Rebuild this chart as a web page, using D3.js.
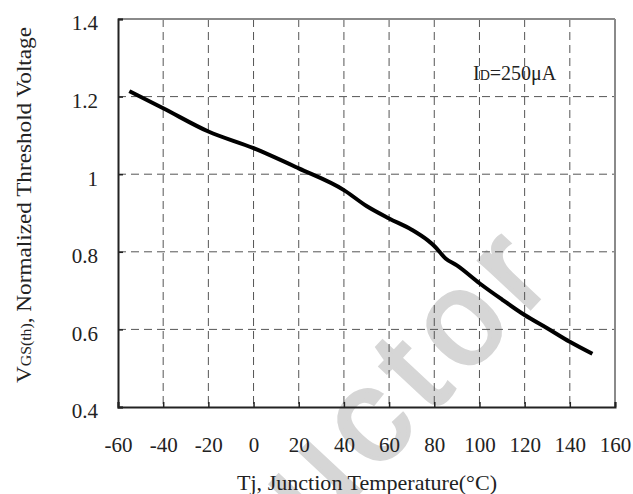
<!DOCTYPE html>
<html>
<head>
<meta charset="utf-8">
<script src="https://cdn.jsdelivr.net/npm/d3@7"></script>
<style>
  body { margin: 0; background: #fff; }
  text { font-family: "Liberation Serif", "Times New Roman", serif; fill: #222; }
</style>
</head>
<body>
<div id="chart"></div>
<script>
// --- data ---------------------------------------
var temps = [-55, -40, -20, 0, 20, 40, 50, 60, 70, 77, 80, 85, 90, 100, 110, 120, 130, 140, 150]
var vth = [1.214, 1.170, 1.110, 1.067, 1.015, 0.959, 0.918, 0.886, 0.857, 0.830, 0.815, 0.783, 0.765, 0.719, 0.677, 0.637, 0.603, 0.568, 0.537]
var xTicks = [-60, -40, -20, 0, 20, 40, 60, 80, 100, 120, 140, 160]
var yTicks = [0.4, 0.6, 0.8, 1.0, 1.2, 1.4]

var width = 633,
    height = 494,
    margin = { top: 19, right: 18, bottom: 87, left: 118 }

var svg = d3.select('#chart').append('svg')
  .attr('width', width)
  .attr('height', height)

var x = d3.scaleLinear().domain([-60, 160]).range([margin.left, width - margin.right])
var y = d3.scaleLinear().domain([0.4, 1.4]).range([height - margin.bottom, margin.top])

// watermark
svg.append('text')
  .attr('transform', 'translate(316,538) rotate(-47)')
  .style('font-family', '"Liberation Sans", Arial, sans-serif')
  .style('font-size', '132px')
  .style('letter-spacing', '14px')
  .style('fill', '#d6d6d6')
  .style('stroke', '#d6d6d6')
  .style('stroke-width', 4)
  .text('uctor')

// gridlines
var grid = svg.append('g').attr('class', 'grid')
grid.selectAll('line.v')
  .data(xTicks.slice(1, -1))
  .enter().append('line')
    .attr('class', 'v')
    .attr('x1', (d) => x(d)).attr('x2', (d) => x(d))
    .attr('y1', y(1.4)).attr('y2', y(0.4))
grid.selectAll('line.h')
  .data(yTicks.slice(1, -1))
  .enter().append('line')
    .attr('class', 'h')
    .attr('y1', (d) => y(d)).attr('y2', (d) => y(d))
    .attr('x1', x(-60)).attr('x2', x(160))
grid.selectAll('line')
  .style('stroke', '#555')
  .style('stroke-width', 1)
  .style('stroke-dasharray', '8,5')

// frame: top and right gray, left and bottom dark
svg.append('line')
  .attr('x1', x(-60)).attr('x2', x(160)).attr('y1', y(1.4)).attr('y2', y(1.4))
  .style('stroke', '#8a8a8a').style('stroke-width', 2)
svg.append('line')
  .attr('x1', x(160)).attr('x2', x(160)).attr('y1', y(1.4)).attr('y2', y(0.4))
  .style('stroke', '#8a8a8a').style('stroke-width', 2)

// axes
var xAxis = d3.axisBottom(x).tickValues(xTicks).tickSize(-5).tickPadding(38)
  .tickFormat((d) => String(d))
var yAxis = d3.axisLeft(y).tickValues(yTicks).tickSize(-5).tickPadding(20)
  .tickFormat((d) => d === 1 ? '1' : d3.format('.1f')(d))

var gx = svg.append('g')
  .attr('transform', `translate(0,${y(0.4)})`)
  .call(xAxis)
var gy = svg.append('g')
  .attr('transform', `translate(${x(-60)},0)`)
  .call(yAxis)

;[gx, gy].forEach((g) => {
  g.select('.domain').style('stroke', '#222').style('stroke-width', 2)
  g.selectAll('.tick line').style('stroke', '#222').style('stroke-width', 1.5)
  g.selectAll('.tick text')
    .style('font-family', '"Liberation Serif", "Times New Roman", serif')
    .style('font-size', '21px')
    .style('fill', '#222')
})
gy.selectAll('.tick text').attr('dy', '0.52em')
gx.selectAll('.tick text').attr('dy', '0.32em')

// curve
var line = d3.line()
  .x((d, i) => x(temps[i]))
  .y((d) => y(d))
  .curve(d3.curveMonotoneX)

svg.append('path')
  .datum(vth)
  .attr('d', line)
  .style('fill', 'none')
  .style('stroke', '#000')
  .style('stroke-width', 4)
  .style('stroke-linejoin', 'round')

// condition label
var cond = svg.append('text')
  .attr('x', 473).attr('y', 80)
  .style('font-size', '20px')
cond.append('tspan').text('I')
cond.append('tspan').style('font-size', '14px').text('D')
cond.append('tspan').text('=250μA')

// axis titles
svg.append('text')
  .attr('x', 367).attr('y', 490)
  .attr('text-anchor', 'middle')
  .attr('textLength', 260)
  .attr('lengthAdjust', 'spacingAndGlyphs')
  .style('font-size', '22px')
  .text('Tj, Junction Temperature(°C)')

var yt = svg.append('text')
  .attr('transform', 'translate(31,383) rotate(-90)')
  .attr('textLength', 356)
  .attr('lengthAdjust', 'spacingAndGlyphs')
  .style('font-size', '22px')
yt.append('tspan').text('V')
yt.append('tspan').style('font-size', '15px').text('GS(th)')
yt.append('tspan').text(', Normalized Threshold Voltage')
</script>
</body>
</html>
